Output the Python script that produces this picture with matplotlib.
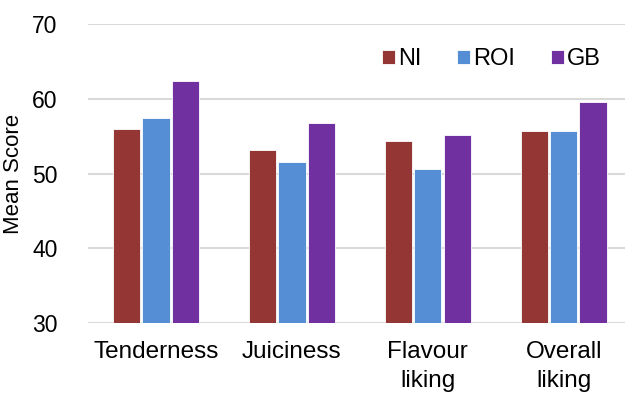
import numpy as np
import matplotlib.pyplot as plt

# Mean sensory scores by attribute and origin
categories = ["Tenderness", "Juiciness", "Flavour\nliking", "Overall\nliking"]
ni = [56.0, 53.2, 54.4, 55.7]
roi = [57.5, 51.6, 50.6, 55.7]
gb = [62.4, 56.8, 55.2, 59.6]

plt.rcParams["font.family"] = ["Liberation Sans", "DejaVu Sans"]

fig = plt.figure(figsize=(6.25, 3.94), dpi=100)
ax = fig.add_axes([0.1408, 0.1794, 0.8592, 0.7596])

x = np.arange(len(categories))
w = 0.2
step = 0.215
ax.bar(x - step, ni, w, color="#943634", edgecolor="white", linewidth=0.6, label="NI", zorder=3)
ax.bar(x, roi, w, color="#558ED5", edgecolor="white", linewidth=0.6, label="ROI", zorder=3)
ax.bar(x + step, gb, w, color="#7030A0", edgecolor="white", linewidth=0.6, label="GB", zorder=3)

ax.set_ylim(30, 70)
ax.set_xlim(-0.5, 3.45)
ax.set_yticks([30, 40, 50, 60, 70])
ax.set_xticks(x)
ax.set_xticklabels(categories, fontsize=17.5, linespacing=1.4)
ax.tick_params(axis="y", labelsize=16.5, length=0, pad=22)
ax.tick_params(axis="x", length=0, pad=13)
ax.set_ylabel("Mean Score", fontsize=16, labelpad=6)
ax.yaxis.grid(True, color="#d9d9d9", linewidth=1.5, zorder=0)
for s in ax.spines.values():
    s.set_visible(False)

ax.legend(loc="upper right", bbox_to_anchor=(0.995, 0.99), ncol=3, frameon=False,
          fontsize=17, handlelength=0.55, handleheight=0.55, handletextpad=0.15,
          columnspacing=1.5)

fig.savefig("out.png", dpi=100)
